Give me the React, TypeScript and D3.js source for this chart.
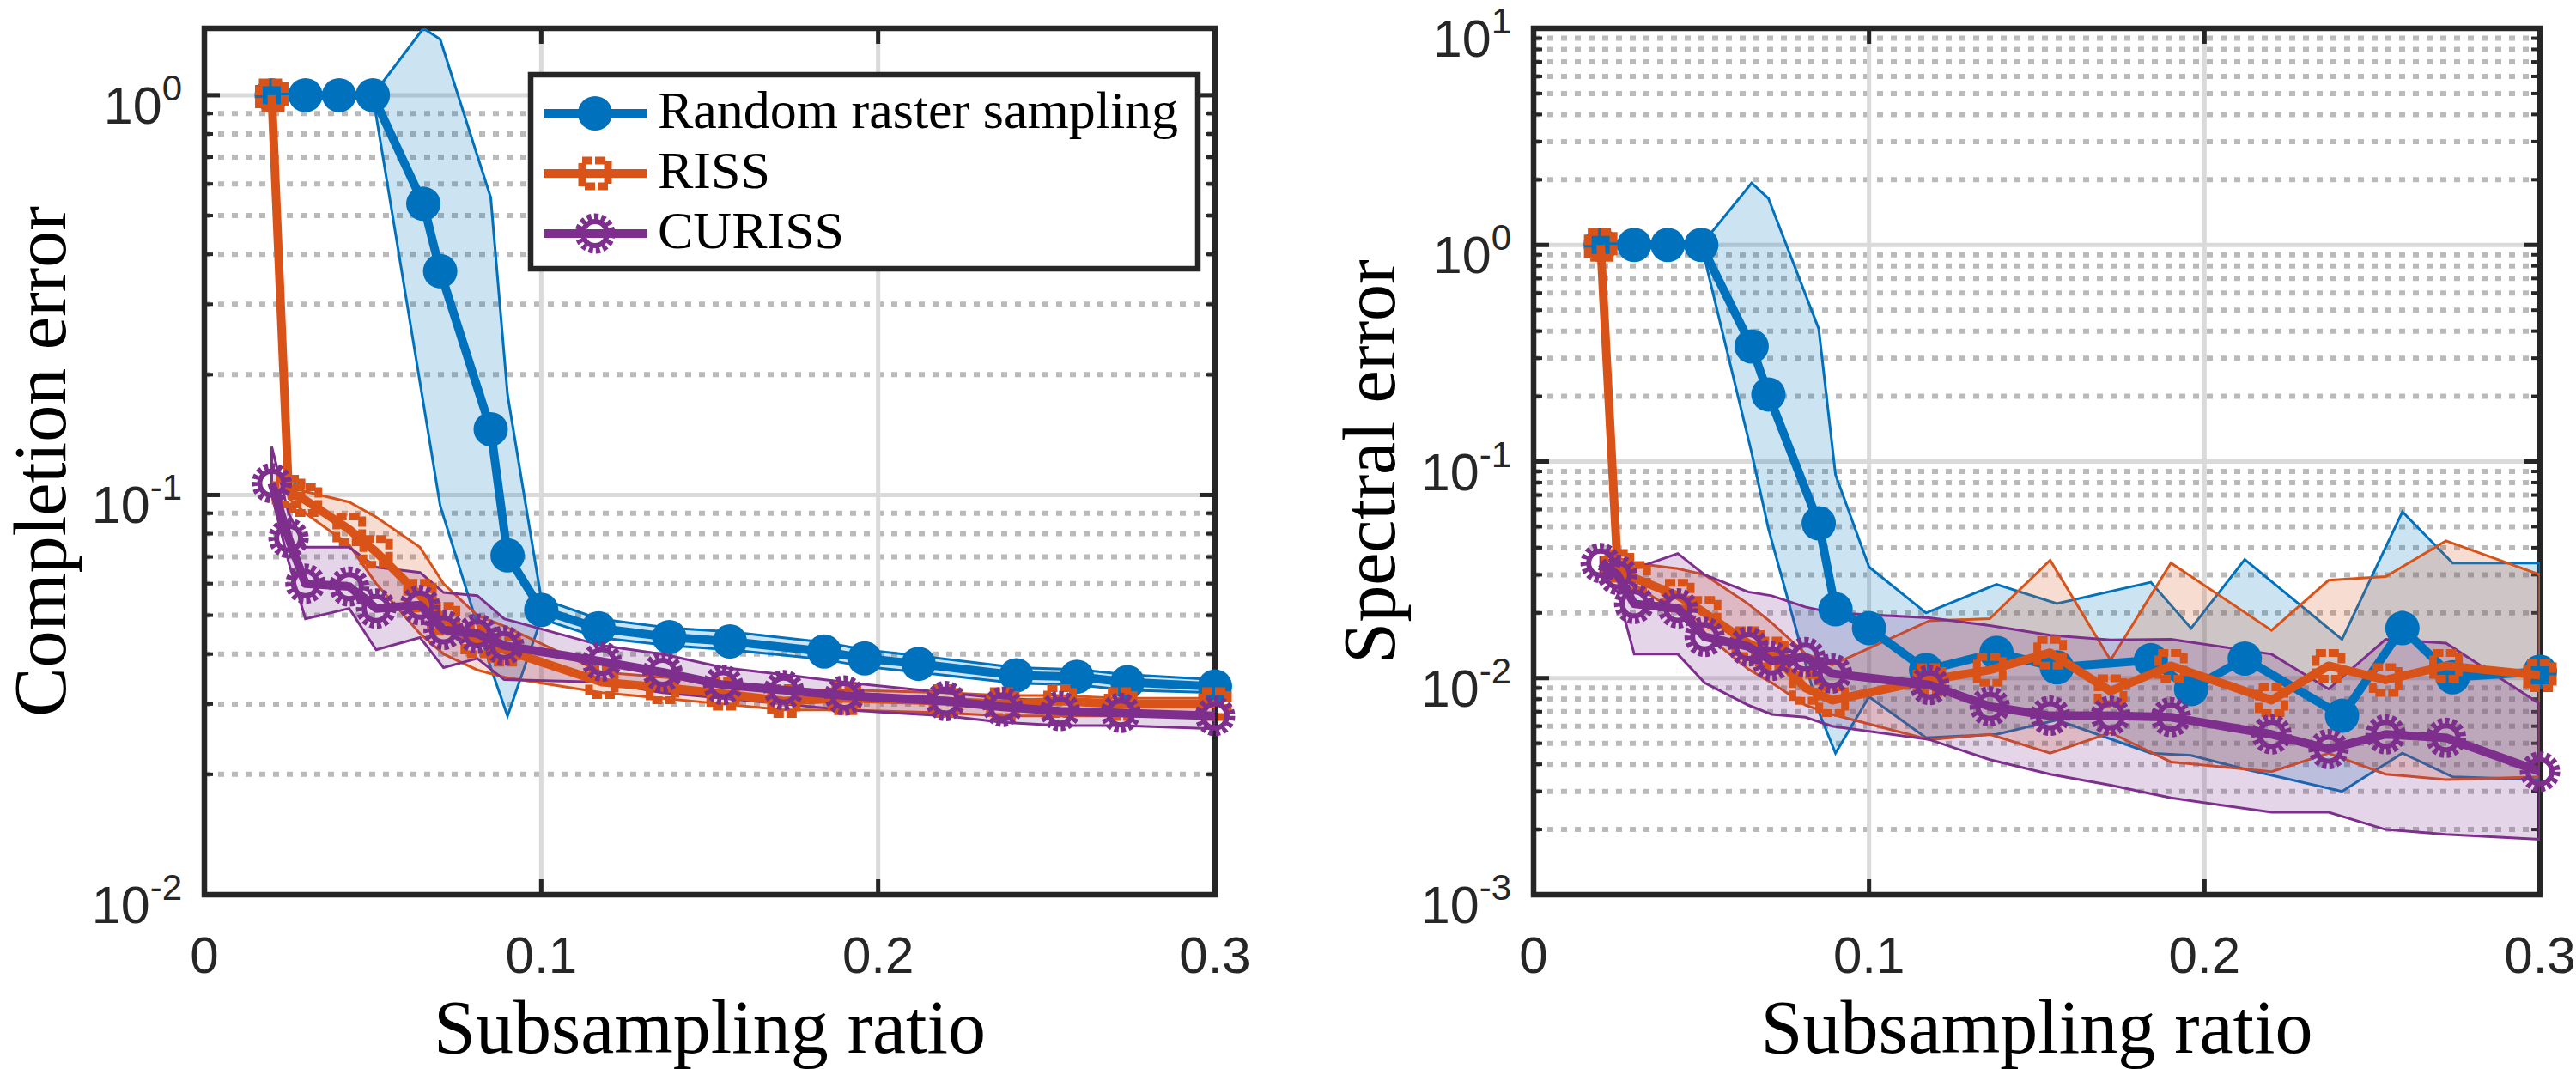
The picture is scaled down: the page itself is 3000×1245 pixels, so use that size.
import * as d3 from "d3";

// x positions (subsampling ratio)
const xRRS = [0.02, 0.03, 0.04, 0.05, 0.065, 0.07, 0.085, 0.09, 0.1, 0.117, 0.138, 0.156, 0.184, 0.196, 0.212, 0.241, 0.259, 0.274, 0.3];
const xRISS = [0.02, 0.025, 0.03, 0.043, 0.051, 0.064, 0.071, 0.081, 0.089, 0.118, 0.136, 0.154, 0.172, 0.19, 0.22, 0.237, 0.254, 0.272, 0.3];

// Completion error (left panel)
const compRRS = [1, 1, 1, 1, 0.535, 0.363, 0.146, 0.0706, 0.0516, 0.0464, 0.0441, 0.043, 0.0406, 0.039, 0.0378, 0.0354, 0.0351, 0.034, 0.0332];
const compRRSLo = [1, 1, 1, 1, 0.17, 0.094, 0.037, 0.028, 0.049, 0.044, 0.042, 0.041, 0.0388, 0.0372, 0.036, 0.0338, 0.0335, 0.0325, 0.032];
const compRRSHi = [1, 1, 1, 1, 1.47, 1.38, 0.555, 0.178, 0.055, 0.049, 0.0465, 0.0455, 0.0428, 0.041, 0.0396, 0.037, 0.0366, 0.0355, 0.0345];
const compRISS = [1, 0.102, 0.097, 0.082, 0.072, 0.056, 0.049, 0.043, 0.041, 0.034, 0.033, 0.0318, 0.0305, 0.031, 0.0305, 0.03, 0.0305, 0.03, 0.03];
const compRISSLo = [1, 0.098, 0.09, 0.075, 0.06, 0.045, 0.04, 0.0365, 0.035, 0.032, 0.031, 0.03, 0.029, 0.029, 0.0285, 0.028, 0.028, 0.028, 0.028];
const compRISSHi = [1, 0.106, 0.102, 0.096, 0.088, 0.074, 0.06, 0.05, 0.047, 0.036, 0.035, 0.034, 0.0325, 0.0325, 0.032, 0.0315, 0.0315, 0.031, 0.031];
const compCURISS = [0.107, 0.078, 0.06, 0.059, 0.052, 0.053, 0.046, 0.045, 0.042, 0.0383, 0.036, 0.0335, 0.0325, 0.0315, 0.0305, 0.0295, 0.0288, 0.0285, 0.028];
const compCURISSLo = [0.1, 0.068, 0.049, 0.052, 0.041, 0.044, 0.037, 0.039, 0.0345, 0.034, 0.032, 0.031, 0.03, 0.029, 0.028, 0.027, 0.0265, 0.0265, 0.026];
const compCURISSHi = [0.132, 0.09, 0.074, 0.074, 0.066, 0.064, 0.057, 0.056, 0.049, 0.042, 0.04, 0.037, 0.0355, 0.034, 0.032, 0.031, 0.0305, 0.03, 0.0295];

// Spectral error (right panel)
const specRRS = [1, 1, 1, 1, 0.34, 0.204, 0.0518, 0.0208, 0.017, 0.0109, 0.0131, 0.0112, 0.0121, 0.0089, 0.0123, 0.0067, 0.017, 0.0101, 0.0107];
const specRRSLo = [1, 1, 1, 1, 0.11, 0.049, 0.007, 0.0045, 0.0082, 0.0053, 0.0055, 0.0064, 0.0045, 0.0044, 0.0038, 0.003, 0.0045, 0.0035, 0.0034];
const specRRSHi = [1, 1, 1, 1, 1.93, 1.64, 0.41, 0.087, 0.0326, 0.02, 0.0271, 0.0221, 0.0277, 0.017, 0.0353, 0.0151, 0.0586, 0.034, 0.034];
const specRISS = [1, 0.033, 0.029, 0.024, 0.02, 0.0145, 0.013, 0.009, 0.0079, 0.0098, 0.0109, 0.0131, 0.0087, 0.0114, 0.0079, 0.0114, 0.0098, 0.0114, 0.0103];
const specRISSLo = [1, 0.03, 0.027, 0.02, 0.016, 0.011, 0.0095, 0.0075, 0.0068, 0.0052, 0.0055, 0.0045, 0.0056, 0.0041, 0.0037, 0.0045, 0.0036, 0.0034, 0.0035];
const specRISSHi = [1, 0.036, 0.034, 0.032, 0.03, 0.022, 0.018, 0.013, 0.0115, 0.0184, 0.0188, 0.035, 0.0121, 0.034, 0.0166, 0.0283, 0.0294, 0.043, 0.03];
const specCURISS = [0.034, 0.03, 0.022, 0.021, 0.0155, 0.014, 0.012, 0.0125, 0.0105, 0.0093, 0.0074, 0.0067, 0.0067, 0.0066, 0.0055, 0.0047, 0.0055, 0.0053, 0.0037];
const specCURISSLo = [0.03, 0.025, 0.0129, 0.0129, 0.0095, 0.0075, 0.0068, 0.0066, 0.006, 0.0052, 0.0042, 0.0036, 0.0032, 0.0028, 0.0024, 0.0024, 0.002, 0.0019, 0.0018];
const specCURISSHi = [0.036, 0.034, 0.032, 0.0376, 0.03, 0.025, 0.024, 0.0213, 0.02, 0.019, 0.0175, 0.0158, 0.015, 0.0151, 0.0129, 0.0089, 0.0151, 0.0145, 0.0076];

const seriesNames = ["Random raster sampling", "RISS", "CURISS"];
const seriesColors = ["#0072BD", "#D95319", "#7E2F8E"];
const markerKinds = ["circle", "square", "gear"];
const xTickValues = [0, 0.1, 0.2, 0.3];

const SERIF = "'Liberation Serif', 'Times New Roman', serif";
const SANS = "'Liberation Sans', Arial, sans-serif";
const AX = "#262626";

type Band = { x: number[]; mean: number[]; lo: number[]; hi: number[] };

function Marker({ kind, color, cx, cy }: { kind: string; color: string; cx: number; cy: number }) {
    if (kind === "circle") return <circle cx={cx} cy={cy} r={20} fill={color} />;
    if (kind === "square")
        return (
            <rect x={cx - 15} y={cy - 15} width={30} height={30} fill="none" stroke={color} strokeWidth={9} strokeDasharray="12 3" />
        );
    return (
        <g>
            <circle cx={cx} cy={cy} r={14} fill="none" stroke={color} strokeWidth={6} />
            <circle cx={cx} cy={cy} r={19.5} fill="none" stroke={color} strokeWidth={8} strokeDasharray="5 3.2" />
        </g>
    );
}

function Panel(p: {
    id: string; left: number; right: number; top: number; bottom: number;
    yMin: number; yMax: number; ylabel: string; bands: Band[]; legend: boolean;
}) {
    const x = d3.scaleLinear().domain([0, 0.3]).range([p.left, p.right]);
    const y = d3.scaleLog().domain([p.yMin, p.yMax]).range([p.bottom, p.top]);
    const kLo = Math.floor(Math.log10(p.yMin) + 1e-9);
    const kHi = Math.ceil(Math.log10(p.yMax) - 1e-9);
    const majors = d3.range(kLo, kHi + 1).map(k => 10 ** k).filter(v => v >= p.yMin * 0.999 && v <= p.yMax * 1.001);
    const minors: number[] = [];
    for (let k = kLo; k < kHi; k++) for (let m = 2; m <= 9; m++) {
        const v = m * 10 ** k;
        if (v > p.yMin && v < p.yMax) minors.push(v);
    }
    const cx = (p.left + p.right) / 2;
    const cy = (p.top + p.bottom) / 2;
    const clip = `clip-${p.id}`;

    return (
        <g>
            <defs>
                <clipPath id={clip}>
                    <rect x={p.left} y={p.top} width={p.right - p.left} height={p.bottom - p.top} />
                </clipPath>
            </defs>
            {/* grid */}
            {minors.map(v => (
                <line key={`mg${v}`} x1={p.left} x2={p.right} y1={y(v)} y2={y(v)} stroke="#bababa" strokeWidth={6} strokeDasharray="7 9" />
            ))}
            {majors.map(v => (
                <line key={`Mg${v}`} x1={p.left} x2={p.right} y1={y(v)} y2={y(v)} stroke="#dadada" strokeWidth={5} />
            ))}
            {xTickValues.slice(1, -1).map(v => (
                <line key={`xg${v}`} x1={x(v)} x2={x(v)} y1={p.top} y2={p.bottom} stroke="#dadada" strokeWidth={5} />
            ))}
            {/* box + ticks */}
            <rect x={p.left} y={p.top} width={p.right - p.left} height={p.bottom - p.top} fill="none" stroke={AX} strokeWidth={6.5} />
            {majors.map(v => (
                <g key={`Mt${v}`}>
                    <line x1={p.left} x2={p.left + 18} y1={y(v)} y2={y(v)} stroke={AX} strokeWidth={5} />
                    <line x1={p.right} x2={p.right - 18} y1={y(v)} y2={y(v)} stroke={AX} strokeWidth={5} />
                </g>
            ))}
            {minors.map(v => (
                <g key={`mt${v}`}>
                    <line x1={p.left} x2={p.left + 10} y1={y(v)} y2={y(v)} stroke={AX} strokeWidth={4} />
                    <line x1={p.right} x2={p.right - 10} y1={y(v)} y2={y(v)} stroke={AX} strokeWidth={4} />
                </g>
            ))}
            {xTickValues.map(v => (
                <g key={`xt${v}`}>
                    <line x1={x(v)} x2={x(v)} y1={p.bottom} y2={p.bottom - 18} stroke={AX} strokeWidth={5} />
                    <line x1={x(v)} x2={x(v)} y1={p.top} y2={p.top + 18} stroke={AX} strokeWidth={5} />
                </g>
            ))}
            {/* bands */}
            <g clipPath={`url(#${clip})`}>
                {p.bands.map((b, i) => {
                    const idx = d3.range(b.x.length);
                    const area = d3.area<number>().x(j => x(b.x[j])).y0(j => y(b.lo[j])).y1(j => y(b.hi[j]));
                    return (
                        <path key={`band${i}`} d={area(idx) ?? ""} fill={seriesColors[i]} fillOpacity={0.2}
                            stroke={seriesColors[i]} strokeWidth={3} />
                    );
                })}
            </g>
            {/* mean lines + markers */}
            {p.bands.map((b, i) => {
                const idx = d3.range(b.x.length);
                const line = d3.line<number>().x(j => x(b.x[j])).y(j => y(b.mean[j]));
                return (
                    <g key={`ser${i}`}>
                        <path d={line(idx) ?? ""} fill="none" stroke={seriesColors[i]} strokeWidth={10} strokeLinejoin="round"
                            clipPath={`url(#${clip})`} />
                        {idx.map(j => (
                            <Marker key={j} kind={markerKinds[i]} color={seriesColors[i]} cx={x(b.x[j])} cy={y(b.mean[j])} />
                        ))}
                    </g>
                );
            })}
            {/* tick labels */}
            {xTickValues.map(v => (
                <text key={`xl${v}`} x={x(v)} y={1133} textAnchor="middle" fontFamily={SANS} fontSize={60} fill={AX}>
                    {d3.format("~g")(v)}
                </text>
            ))}
            {majors.map(v => {
                const k = Math.round(Math.log10(v));
                return (
                    <text key={`yl${v}`} x={p.left - 26} y={y(v) + 33} textAnchor="end" fontFamily={SANS} fontSize={61} fill={AX}>
                        10<tspan dy={-27} fontSize={42}>{k}</tspan>
                    </text>
                );
            })}
            {/* axis labels */}
            <text x={cx} y={1226} textAnchor="middle" fontFamily={SERIF} fontSize={88} fill="#000">Subsampling ratio</text>
            <text transform={`translate(${p.left - 162},${cy}) rotate(-90)`} textAnchor="middle" fontFamily={SERIF} fontSize={86}
                fill="#000">{p.ylabel}</text>
            {p.legend && <Legend />}
        </g>
    );
}

function Legend() {
    const bx = 618, by = 87, bw = 777, bh = 226;
    const rows = d3.scalePoint<number>().domain([0, 1, 2]).range([132, 272]);
    return (
        <g>
            <rect x={bx} y={by} width={bw} height={bh} fill="#fff" stroke={AX} strokeWidth={6.5} />
            {seriesNames.map((name, i) => (
                <g key={name}>
                    <line x1={633} x2={753} y1={rows(i)} y2={rows(i)} stroke={seriesColors[i]} strokeWidth={10} />
                    <Marker kind={markerKinds[i]} color={seriesColors[i]} cx={693} cy={rows(i)!} />
                    <text x={766} y={(rows(i) ?? 0) + 17} fontFamily={SERIF} fontSize={62} fill="#000">{name}</text>
                </g>
            ))}
        </g>
    );
}

export default function App() {
    const compBands: Band[] = [
        { x: xRRS, mean: compRRS, lo: compRRSLo, hi: compRRSHi },
        { x: xRISS, mean: compRISS, lo: compRISSLo, hi: compRISSHi },
        { x: xRISS, mean: compCURISS, lo: compCURISSLo, hi: compCURISSHi },
    ];
    const specBands: Band[] = [
        { x: xRRS, mean: specRRS, lo: specRRSLo, hi: specRRSHi },
        { x: xRISS, mean: specRISS, lo: specRISSLo, hi: specRISSHi },
        { x: xRISS, mean: specCURISS, lo: specCURISSLo, hi: specCURISSHi },
    ];
    return (
        <svg width={3000} height={1245} viewBox="0 0 3000 1245"
            style={{ position: "absolute", left: 0, top: 0, background: "#fff", display: "block" }}>
            <rect width={3000} height={1245} fill="#fff" />
            <Panel id="comp" left={238} right={1415} top={33} bottom={1042} yMin={0.01} yMax={1.47}
                ylabel="Completion error" bands={compBands} legend={true} />
            <Panel id="spec" left={1786} right={2958} top={33} bottom={1042} yMin={0.001} yMax={10}
                ylabel="Spectral error" bands={specBands} legend={false} />
        </svg>
    );
}
